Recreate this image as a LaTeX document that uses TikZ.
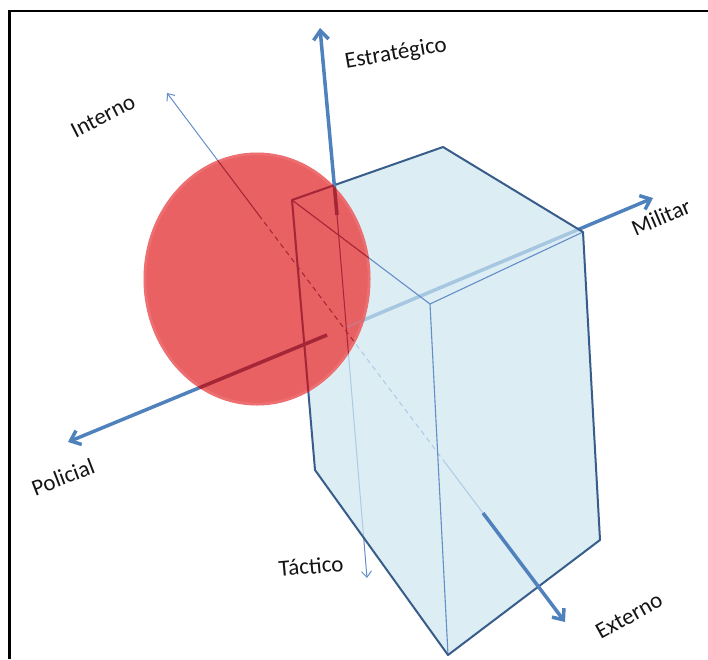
\documentclass[tikz,border=0pt]{standalone}
\usepackage{fontspec}
\setmainfont{Carlito}
\usetikzlibrary{arrows.meta,calc}
\definecolor{axisblue}{RGB}{79,129,189}
\definecolor{thinblue}{RGB}{100,142,200}
\definecolor{edgenavy}{RGB}{56,93,138}
\definecolor{boxfill}{RGB}{205,229,240}
\definecolor{ballred}{RGB}{232,88,90}
\definecolor{ballrim}{RGB}{245,140,140}
\definecolor{inred}{RGB}{165,38,55}
\definecolor{inpink}{RGB}{215,110,120}
\definecolor{txt}{RGB}{20,20,20}
\begin{document}
\begin{tikzpicture}[x=1pt,y=-1pt,
  bigaxis/.style={draw=axisblue,line width=3.5pt,-{Straight Barb[length=9pt,width=15pt]}},
  thinaxis/.style={draw=thinblue,line width=1pt,-{Straight Barb[length=6pt,width=10pt]}},
  thinline/.style={draw=thinblue,line width=1pt},
  lbl/.style={font=\fontsize{23}{26}\selectfont,text=txt,inner sep=0pt}]
\useasboundingbox (0,0) rectangle (708,659);
% frame
\draw[line width=2.3pt] (9.5,659) -- (9.5,11) -- (708,11);
% axis points
\coordinate (O) at (347,327);
\coordinate (MilTip) at (653,198);
\coordinate (PolO) at (327,335);
\coordinate (PolTip) at (68,442);
\coordinate (EstO) at (337,215);
\coordinate (EstTip) at (320,28);
\coordinate (TacTip) at (367,578);
\coordinate (IntTip) at (167,93);
\coordinate (ExtTip) at (565,622);
\coordinate (D1) at ($(IntTip)!0.2306!(ExtTip)$);
\coordinate (D2) at ($(IntTip)!0.694!(ExtTip)$);
\coordinate (X1) at ($(IntTip)!0.794!(ExtTip)$);
% box corners
\coordinate (A) at (292,200);
\coordinate (B) at (443,147);
\coordinate (C) at (583,232);
\coordinate (D) at (430,304);
\coordinate (E) at (315,470);
\coordinate (F) at (448,655);
\coordinate (G) at (600,540);
% axes behind the box
\draw[bigaxis] (O) -- (MilTip);
\draw[thinaxis] (D1) -- (IntTip);
\draw[thinline,dash pattern=on 5pt off 4pt] (D1) -- (D2);
\draw[thinline] (D2) -- (X1);
\draw[thinaxis] (EstO) -- (TacTip);
% box
\fill[boxfill,fill opacity=0.7] (A) -- (B) -- (C) -- (G) -- (F) -- (E) -- cycle;
\draw[thinblue,line width=1.1pt] (A) -- (D) -- (C) (D) -- (F);
\draw[edgenavy,line width=2pt,line join=round] (A) -- (B) -- (C) -- (G) -- (F) -- (E) -- cycle;
% axes in front
\draw[bigaxis] (EstO) -- (EstTip);
\draw[bigaxis] (PolO) -- (PolTip);
\draw[bigaxis] (X1) -- (ExtTip);
% ball
\fill[ballred,fill opacity=0.95] (257,279) ellipse [x radius=113.5pt, y radius=126.5pt];
\draw[ballrim,line width=2.5pt,opacity=0.35] (257,279) ellipse [x radius=112pt, y radius=125pt];
\begin{scope}
  \clip (257,279) ellipse [x radius=113.5pt, y radius=126.5pt];
  \draw[inred,line width=2pt,line join=round] (B) -- (A) -- (E);
  \draw[inred,line width=1.1pt] (A) -- (D);
  \draw[inred,line width=3.5pt] (EstO) -- (EstTip);
  \draw[inred,line width=3.5pt] (PolO) -- (PolTip);
  \draw[inred,line width=1pt] (D1) -- (IntTip);
  \draw[inred,line width=1pt,dash pattern=on 5pt off 4pt] (D1) -- (D2);
  \draw[inred,line width=1pt] (EstO) -- (TacTip);
  \draw[inpink,line width=3pt] (O) -- (MilTip);
\end{scope}
% labels
\node[lbl,rotate=10] (lEst) at (396,54) {Estratégico};
\node[lbl,rotate=27] (lInt) at (103,116) {Interno};
\node[lbl,rotate=23] (lMil) at (661,217) {Militar};
\node[lbl,rotate=21] (lPol) at (63,477) {Policial};
\node[lbl,rotate=5] (lTac) at (311,566) {Táctico};
\node[lbl,rotate=29] (lExt) at (629,616) {Externo};
\end{tikzpicture}
\end{document}
